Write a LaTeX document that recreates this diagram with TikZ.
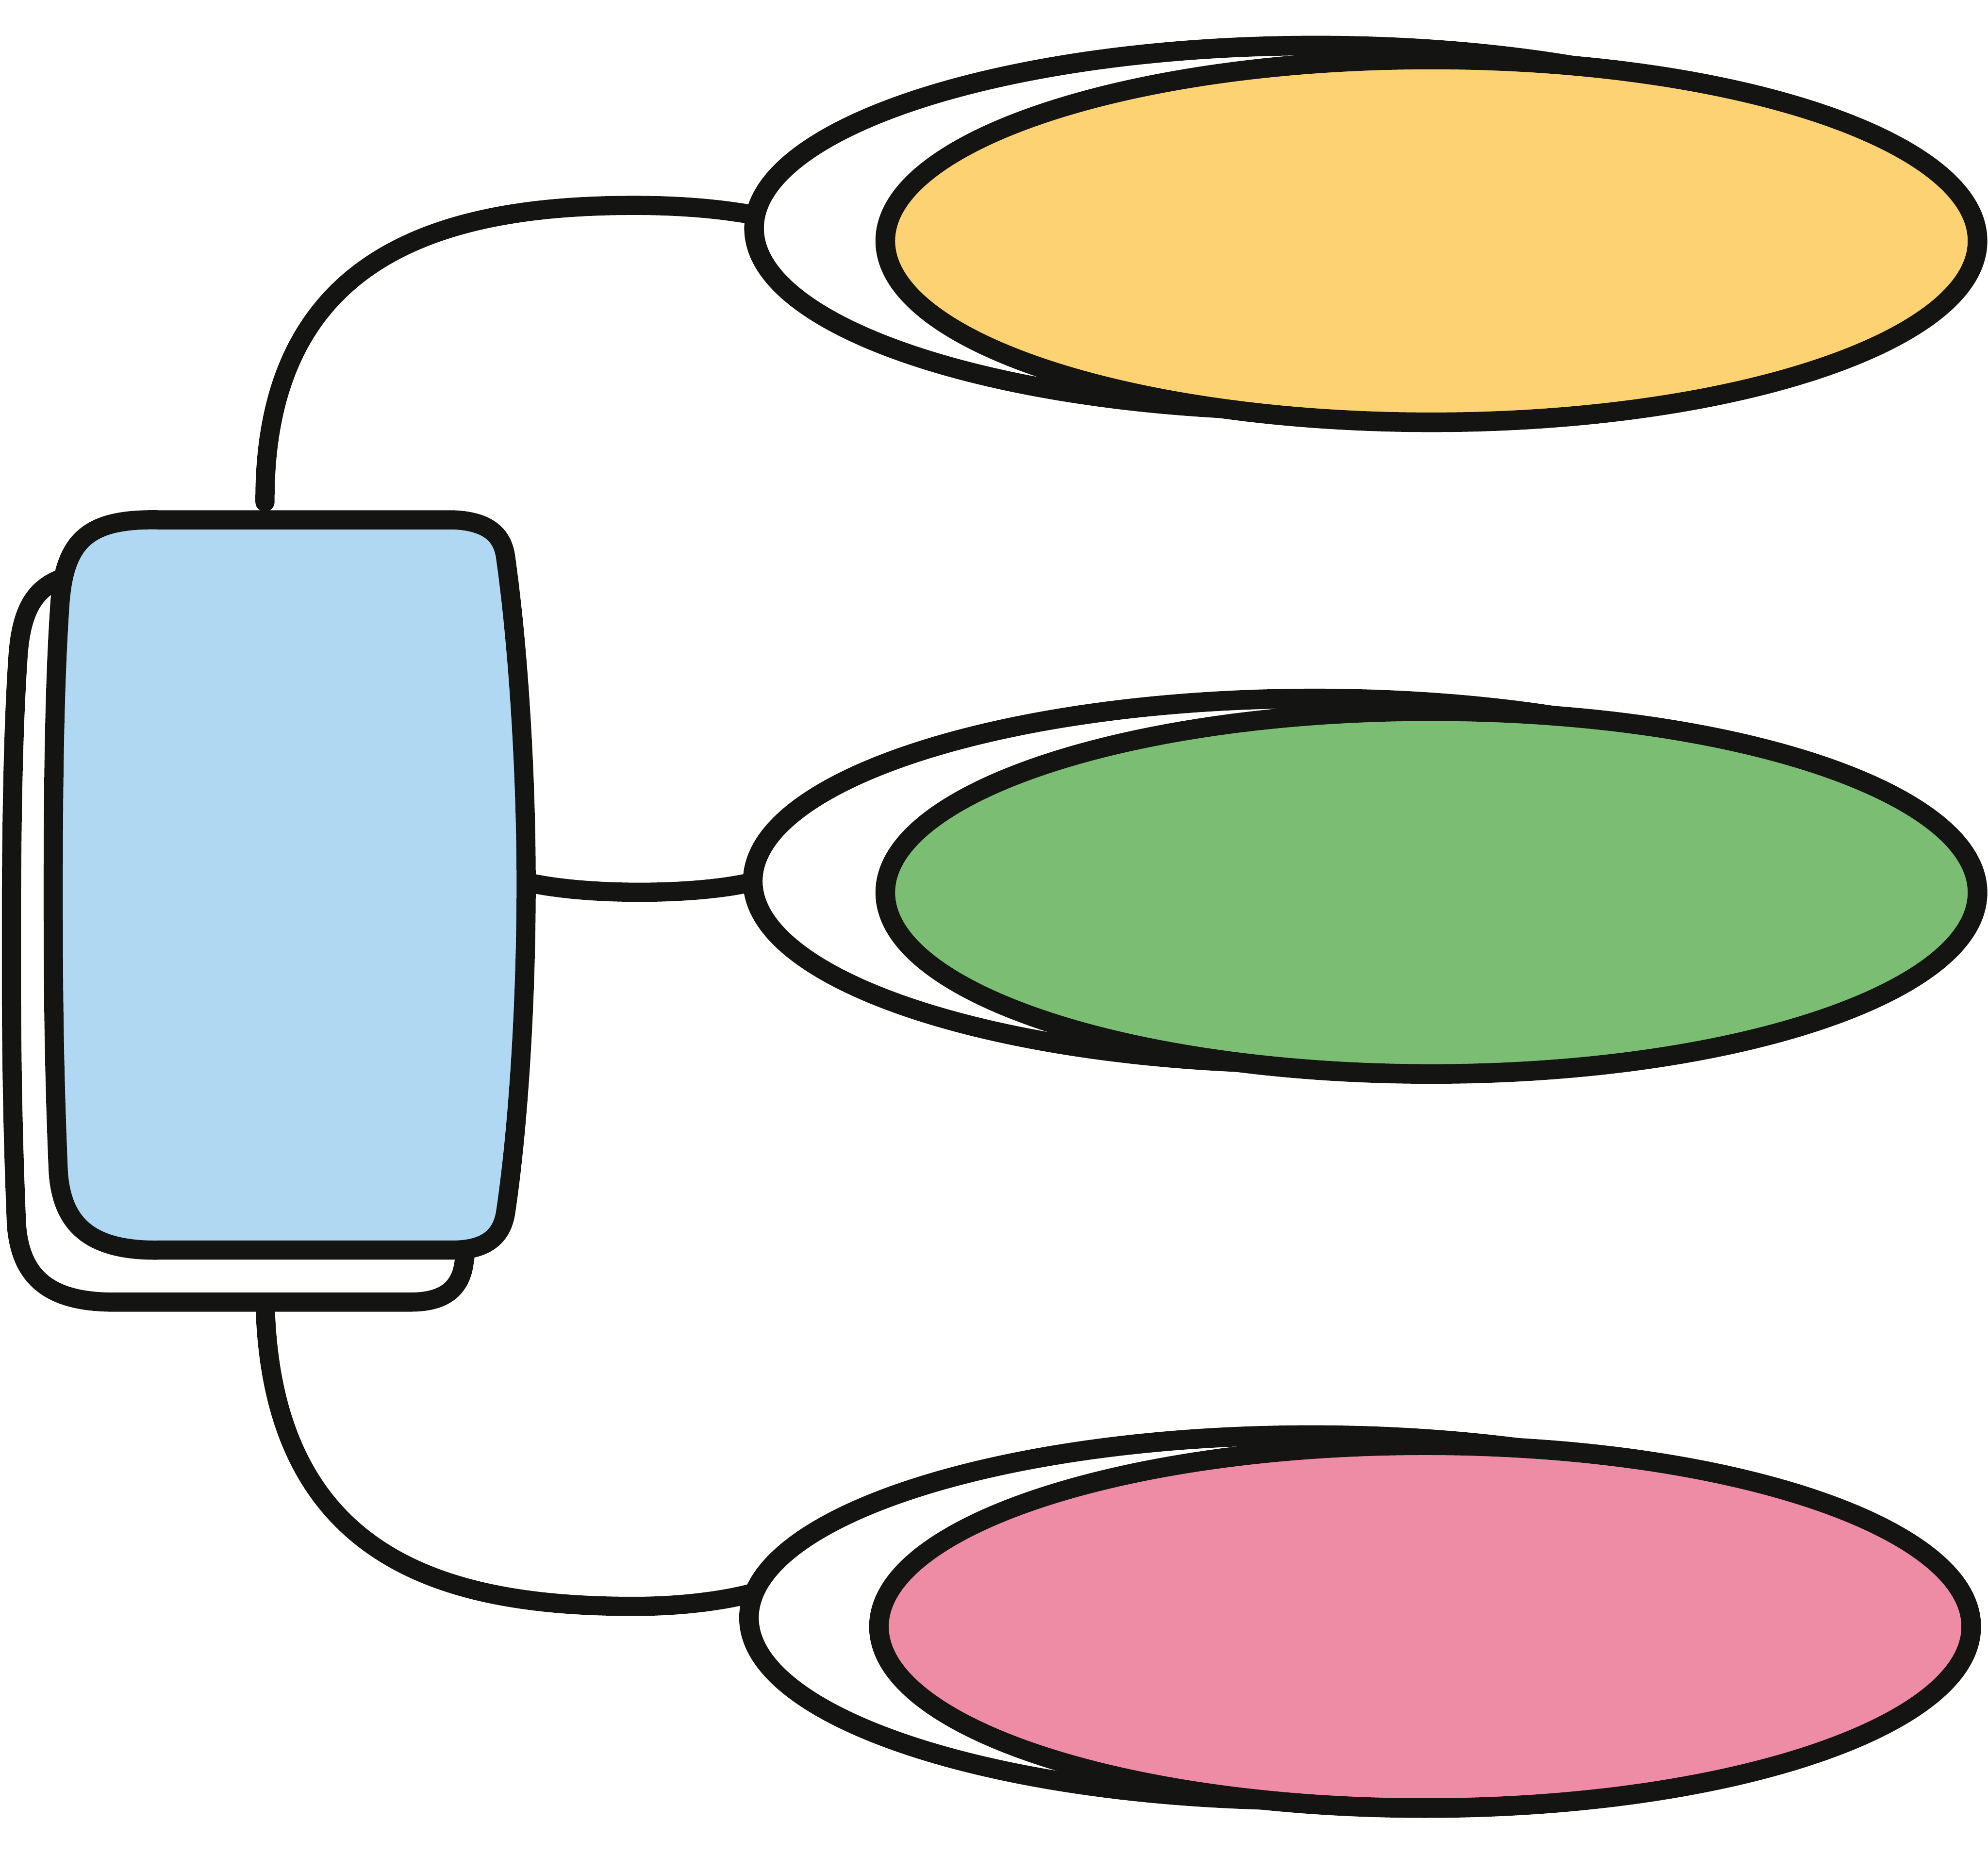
\documentclass[tikz,border=0pt]{standalone}
\usepackage{tikz}
\usetikzlibrary{shapes.geometric,positioning}
\definecolor{ink}{HTML}{141412}
\definecolor{hubblue}{HTML}{B0D8F2}
\definecolor{leafyellow}{HTML}{FCD273}
\definecolor{leafgreen}{HTML}{7BBD72}
\definecolor{leafpink}{HTML}{EF8CA5}
\pgfdeclarelayer{background}
\pgfsetlayers{background,main}

\begin{document}
\begin{tikzpicture}[
  x=0.01cm, y=-0.01cm,
  hub/.style={draw=ink, line width=4.3pt, line join=round, fill=hubblue},
  hubback/.style={draw=ink, line width=4.3pt, line join=round, fill=white},
  leaf/.style={ellipse, draw=ink, line width=4.4pt, inner sep=0pt,
               minimum width=8.61cm, minimum height=2.86cm},
  leafback/.style={ellipse, draw=ink, line width=4.4pt, inner sep=0pt, fill=white,
                   minimum width=8.86cm, minimum height=2.88cm},
  link/.style={draw=ink, line width=4.3pt, line cap=round}
]
\useasboundingbox (0,0) rectangle (1568,1463);

% hub block and its copy behind it
\foreach \dx/\dy/\sty in {-33/41/hubback, 0/0/hub}
  \draw[\sty, shift={(\dx,\dy)}] (125,410) -- (357,410)
    .. controls (385,411) and (397,422) .. (399,441)
    .. controls (410,520) and (415,620) .. (415,697)
    .. controls (415,780) and (410,880) .. (399,955)
    .. controls (396,978) and (380,986) .. (357,986)
    -- (126,986)
    .. controls (70,987) and (49,965) .. (46,925)
    .. controls (42,830) and (42,760) .. (42,697)
    .. controls (42,620) and (43,540) .. (47,480)
    .. controls (50,425) and (70,409) .. (125,410) -- cycle;

\coordinate (hubup) at (209,396);
\coordinate (hubright) at (405,693);
\coordinate (hubdown) at (209,1015);

% leaves
\node[leafback] (topback) at (1038,180) {};
\node[leaf, fill=leafyellow] (topfill) at (1129,190) {};
\node[leafback] (midback) at (1037,695) {};
\node[leaf, fill=leafgreen] (midfill) at (1129,704) {};
\node[leafback] (lowback) at (1034,1276) {};
\node[leaf, fill=leafpink] (lowfill) at (1124,1283) {};

% links
\begin{pgfonlayer}{background}
\draw[link] (hubup) .. controls (208,200) and (350,162) .. (500,162)
  .. controls (545,162) and (575,166) .. ([xshift=1mm, yshift=1mm]topback.west);
\draw[link] (hubright) .. controls (450,707) and (550,707) .. ([xshift=1mm]midback.west);
\draw[link] (hubdown) .. controls (208,1230) and (350,1267) .. (500,1267)
  .. controls (540,1267) and (575,1262) .. ([xshift=1.6mm, yshift=2.1mm]lowback.west);
\end{pgfonlayer}
\end{tikzpicture}
\end{document}
